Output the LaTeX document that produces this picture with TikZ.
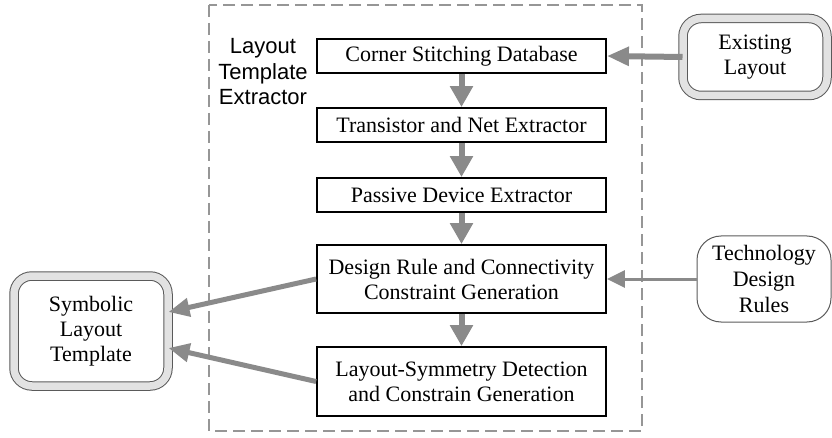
\documentclass[tikz,border=0pt]{standalone}
\usepackage{fontspec}
\setmainfont{Liberation Serif}
\newfontfamily\extractorfont{Liberation Sans}
\usetikzlibrary{arrows.meta}
\definecolor{arrowgray}{RGB}{138,138,138}
\definecolor{framegray}{RGB}{150,150,150}
\definecolor{ringgray}{RGB}{226,226,226}
\definecolor{edgegray}{RGB}{90,90,90}
\begin{document}
\begin{tikzpicture}[x=1pt,y=-1pt,
  stage/.style={draw,line width=1.8pt,minimum width=289pt,inner sep=0pt,align=center,font=\fontsize{22}{25}\selectfont},
  source/.style={draw=edgegray,line width=1pt,double=ringgray,double distance=7.5pt,rounded corners=18pt,inner sep=0pt,align=center,font=\fontsize{22}{25}\selectfont},
  rules/.style={draw=edgegray,line width=1pt,rounded corners=24pt,inner sep=0pt,align=center,font=\fontsize{22}{26}\selectfont},
  flow/.style={arrowgray,line width=6pt,-{Triangle[length=21pt,width=22pt]}},
  feed/.style={arrowgray,line width=5pt,-{Triangle[length=21pt,width=18pt]}}]
\useasboundingbox (0,0) rectangle (832,438);
\draw[framegray,line width=2pt,dash pattern=on 12pt off 6pt] (209,5) rectangle (642,431);
\node[align=center,font=\extractorfont\fontsize{22}{25.5}\selectfont] (title) at (263,72) {Layout\\Template\\Extractor};
\node[stage,minimum height=34pt] (corner) at (461.5,56) {Corner Stitching Database};
\node[stage,minimum height=34pt] (netx) at (461.5,125) {Transistor and Net Extractor};
\node[stage,minimum height=34pt] (passive) at (461.5,195) {Passive Device Extractor};
\node[stage,minimum height=68pt] (drc) at (461.5,279) {Design Rule and Connectivity\\Constraint Generation};
\node[stage,minimum height=69pt] (sym) at (461.5,381.5) {Layout-Symmetry Detection\\and Constrain Generation};
\node[source,minimum width=144pt,minimum height=77pt] (exist) at (755,57) {Existing\\Layout};
\node[source,minimum width=154pt,minimum height=110pt] (symb) at (91,331) {Symbolic\\Layout\\Template};
\node[rules,minimum width=134pt,minimum height=86pt] (tech) at (764,279) {Technology\\Design\\Rules};
\draw[flow] (corner) -- (netx);
\draw[flow] (netx) -- (passive);
\draw[flow] (passive) -- (drc);
\draw[flow] (drc) -- (sym);
\draw[arrowgray,line width=6pt,-{Triangle[length=22pt,width=18pt]}] (exist.west) -- (corner.east);
\draw[arrowgray,line width=3pt,-{Triangle[length=18pt,width=17pt]}] (tech.west) -- (drc.east);
\draw[feed] (drc.west) -- ([yshift=19pt]symb.east);
\draw[feed] (sym.west) -- ([yshift=-17pt]symb.east);
\end{tikzpicture}
\end{document}
